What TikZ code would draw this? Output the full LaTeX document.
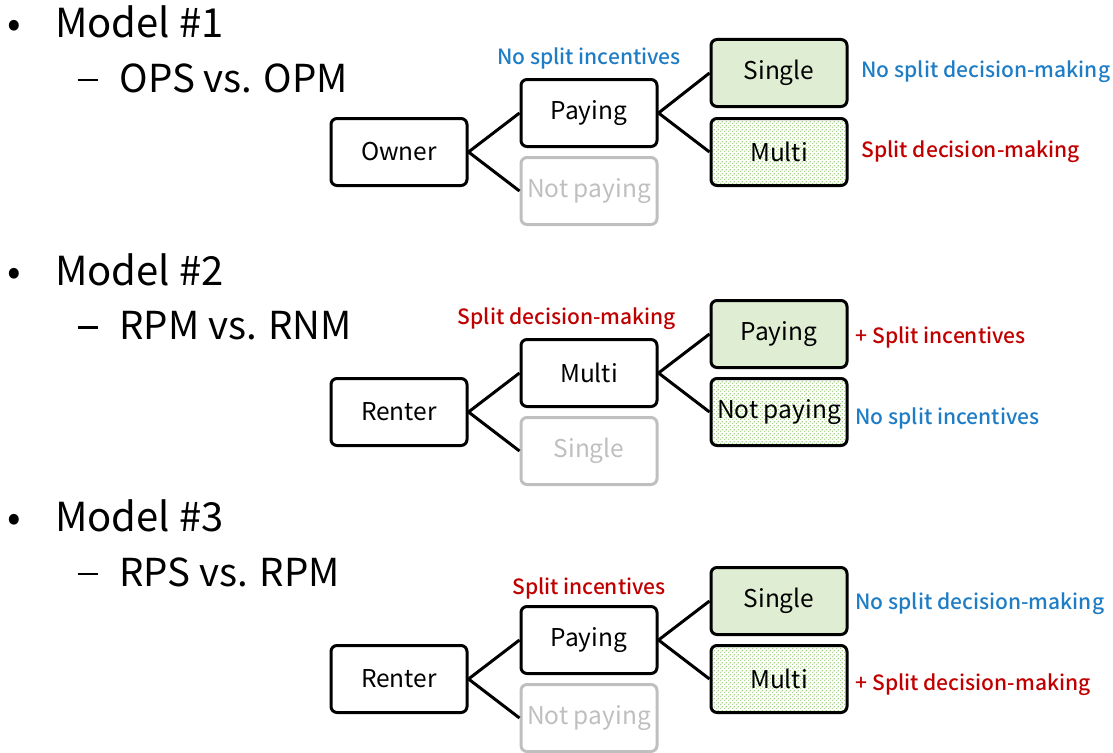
\documentclass[tikz,border=0pt]{standalone}
\usepackage{fontspec}
\setmainfont{Noto Sans CJK KR}
\newfontfamily\labelfont{Noto Sans CJK KR Medium}
\usetikzlibrary{patterns}
\definecolor{splitblue}{HTML}{1F7DC6}
\definecolor{splitred}{HTML}{C00000}
\definecolor{lightgreen}{HTML}{DFEED3}
\definecolor{dotgreen}{HTML}{A8D288}
\definecolor{fadegray}{HTML}{BFBFBF}
% sparse checkerboard of small square dots
\pgfdeclarepatternformonly{greendots}{\pgfpointorigin}{\pgfqpoint{4pt}{4pt}}{\pgfqpoint{4pt}{4pt}}{
  \pgfpathrectangle{\pgfqpoint{0pt}{0pt}}{\pgfqpoint{1.5pt}{1.5pt}}
  \pgfpathrectangle{\pgfqpoint{2pt}{2pt}}{\pgfqpoint{1.5pt}{1.5pt}}
  \pgfusepath{fill}}
\newcommand{\subdash}{\rule[11pt]{20pt}{2.5pt}}
\tikzset{
  choice/.style={draw=black, line width=3pt, rounded corners=6pt, minimum width=136pt,
    minimum height=67pt, inner sep=0pt, font=\fontsize{24.5}{28}\selectfont},
  filled/.style={choice, fill=lightgreen},
  dotted fill/.style={choice, pattern=greendots, pattern color=dotgreen},
  faded/.style={choice, draw=fadegray, text=fadegray},
  branch/.style={line width=3pt},
  heading/.style={anchor=west, font=\fontsize{40}{44}\selectfont},
  subheading/.style={anchor=west, font=\fontsize{38.5}{42}\selectfont},
  note/.style={font=\labelfont\fontsize{21}{25}\selectfont},
  bluenote/.style={note, text=splitblue},
  rednote/.style={note, text=splitred},
}
\begin{document}
\begin{tikzpicture}[x=1pt,y=-1pt]
\useasboundingbox (0,0) rectangle (1113,752);

% ---- Model 1: owner branch ----
\node[heading] (h1) at (4,22) {\textbullet\hspace{34pt}Model \#1};
\node[subheading] (s1) at (74,78) {\subdash\hspace{22pt}OPS vs. OPM};
\node[choice] (o1) at (399,152) {Owner};
\node[choice] (p1) at (589,113) {Paying};
\node[faded] (n1) at (589,191) {Not paying};
\node[filled] (a1) at (779,73) {Single};
\node[dotted fill] (b1) at (779,152) {Multi};
\draw[branch] (o1.east) -- (p1.west);
\draw[branch] (o1.east) -- (n1.west);
\draw[branch] (p1.east) -- (a1.west);
\draw[branch] (p1.east) -- (b1.west);
\node[bluenote] (l1) at (589,58) {No split incentives};
\node[bluenote, anchor=west] (r1a) at (858,72) {No split decision-making};
\node[rednote, anchor=west] (r1b) at (858,152) {Split decision-making};

% ---- Model 2: renter, multi-unit ----
\node[heading] (h2) at (4,270) {\textbullet\hspace{34pt}Model \#2};
\node[subheading] (s2) at (74,326) {\subdash\hspace{22pt}RPM vs. RNM};
\node[choice] (o2) at (399,412) {Renter};
\node[choice] (p2) at (589,373) {Multi};
\node[faded] (n2) at (589,451) {Single};
\node[filled] (a2) at (779,334) {Paying};
\node[dotted fill] (b2) at (779,412) {Not paying};
\draw[branch] (o2.east) -- (p2.west);
\draw[branch] (o2.east) -- (n2.west);
\draw[branch] (p2.east) -- (a2.west);
\draw[branch] (p2.east) -- (b2.west);
\node[rednote] (l2) at (567,319) {Split decision-making};
\node[rednote, anchor=west] (r2a) at (852,337) {+ Split incentives};
\node[bluenote, anchor=west] (r2b) at (852,418) {No split incentives};

% ---- Model 3: renter, paying ----
\node[heading] (h3) at (4,516) {\textbullet\hspace{34pt}Model \#3};
\node[subheading] (s3) at (74,572) {\subdash\hspace{22pt}RPS vs. RPM};
\node[choice] (o3) at (399,679) {Renter};
\node[choice] (p3) at (589,640) {Paying};
\node[faded] (n3) at (589,718) {Not paying};
\node[filled] (a3) at (779,601) {Single};
\node[dotted fill] (b3) at (779,679) {Multi};
\draw[branch] (o3.east) -- (p3.west);
\draw[branch] (o3.east) -- (n3.west);
\draw[branch] (p3.east) -- (a3.west);
\draw[branch] (p3.east) -- (b3.west);
\node[rednote] (l3) at (589,588) {Split incentives};
\node[bluenote, anchor=west] (r3a) at (852,604) {No split decision-making};
\node[rednote, anchor=west] (r3b) at (852,685) {+ Split decision-making};
\end{tikzpicture}
\end{document}
